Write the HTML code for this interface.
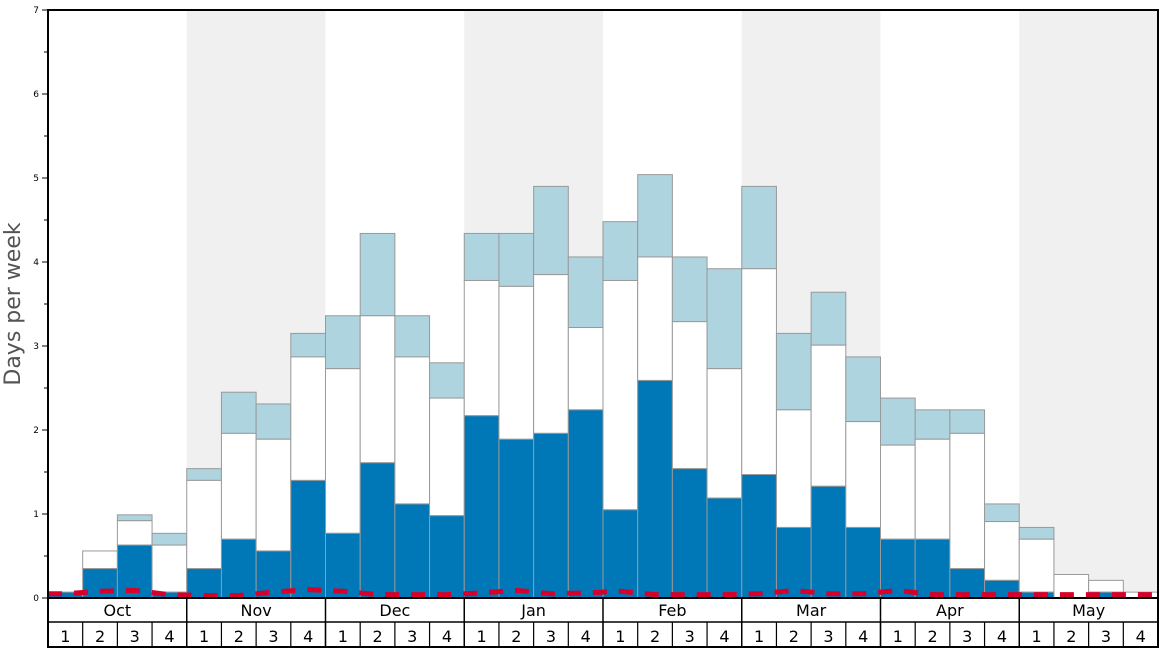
<!DOCTYPE html>
<html><head><meta charset="utf-8"><style>
body{margin:0;background:#fff;font-family:"DejaVu Sans","Liberation Sans",sans-serif;}
svg{display:block}
</style></head><body>
<svg id="chart" width="1168" height="648" xmlns="http://www.w3.org/2000/svg">
<g id="bg"></g>
<g id="bars"></g>
<g id="line"></g>
<g id="axes"></g>
<text transform="translate(20,304) rotate(-90)" text-anchor="middle" font-size="22" fill="#555">Days per week</text>
</svg>
<script>
const months=["Oct","Nov","Dec","Jan","Feb","Mar","Apr","May"];
const darkVals=[0.07,0.35,0.63,0.07,0.35,0.70,0.56,1.40,0.77,1.61,1.12,0.98,2.17,1.89,1.96,2.24,1.05,2.59,1.54,1.19,1.47,0.84,1.33,0.84,0.70,0.70,0.35,0.21,0.07,0,0.07,0];
const whiteVals=[0.07,0.56,0.92,0.63,1.40,1.96,1.89,2.87,2.73,3.36,2.87,2.38,3.78,3.71,3.85,3.22,3.78,4.06,3.29,2.73,3.92,2.24,3.01,2.10,1.82,1.89,1.96,0.91,0.70,0.28,0.21,0.07];
const topVals=[0.07,0.56,0.99,0.77,1.54,2.45,2.31,3.15,3.36,4.34,3.36,2.80,4.34,4.34,4.90,4.06,4.48,5.04,4.06,3.92,4.90,3.15,3.64,2.87,2.38,2.24,2.24,1.12,0.84,0.28,0.21,0.07];
const lineVals=[0.05,0.08,0.09,0.04,0.03,0.03,0.07,0.10,0.08,0.04,0.04,0.04,0.06,0.09,0.05,0.06,0.08,0.04,0.04,0.04,0.05,0.09,0.05,0.05,0.09,0.04,0.04,0.04,0.04,0.04,0.04,0.04];
const yTicks=[0,1,2,3,4,5,6,7];
const NS="http://www.w3.org/2000/svg";
const X0=48,X1=1158,Y0=598,Y7=10,n=darkVals.length,bw=(X1-X0)/n;
const xs=i=>X0+i*bw;
const ys=v=>Y0-(v/7)*(Y0-Y7);
function mk(p,t,a){const e=document.createElementNS(NS,t);for(const k in a)e.setAttribute(k,a[k]);p.appendChild(e);return e;}
const bg=document.getElementById('bg'),bars=document.getElementById('bars'),ln=document.getElementById('line'),ax=document.getElementById('axes');
months.forEach((m,i)=>{if(i%2==1){const r=mk(bg,'rect',{x:xs(i*4),y:Y7,width:bw*4,height:Y0-Y7,fill:'#f0f0f0'});

}});
for(let i=0;i<n;i++){
 const x=xs(i);
 const t=mk(bars,'rect',{x:x,y:ys(topVals[i]),width:bw,height:ys(whiteVals[i])-ys(topVals[i]),fill:'#aed4e0',stroke:'#999','stroke-width':1});
 
 
 const w=mk(bars,'rect',{x:x,y:ys(whiteVals[i]),width:bw,height:ys(darkVals[i])-ys(whiteVals[i]),fill:'#fff',stroke:'#999','stroke-width':1});
 
 
 const d=mk(bars,'rect',{x:x,y:ys(darkVals[i]),width:bw,height:Y0-ys(darkVals[i]),fill:'#0077b6',stroke:'#999','stroke-width':1});
 
 
}
const pts=lineVals.map((v,i)=>(xs(i)+bw/2)+','+ys(v));
pts.unshift(X0+','+ys(lineVals[0]));pts.push(X1+','+ys(lineVals[n-1]));
const pl=mk(ln,'polyline',{points:pts.join(' '),fill:'none',stroke:'#d7002a','stroke-width':5,'stroke-dasharray':'14,12'});


mk(ax,'rect',{x:X0,y:Y7,width:X1-X0,height:Y0-Y7,fill:'none',stroke:'#000','stroke-width':2});
for(let k=0;k<=14;k++){const v=k/2,y=ys(v);mk(ax,'line',{x1:X0-(k%2?4:6),x2:X0,y1:y,y2:y,stroke:'#000','stroke-width':1});}
yTicks.forEach(v=>{const t=mk(ax,'text',{x:X0-9,y:ys(v)+3,'text-anchor':'end','font-size':9,fill:'#000'});t.textContent=v;

});
mk(ax,'rect',{x:X0,y:Y0,width:X1-X0,height:49,fill:'#fff',stroke:'#000','stroke-width':2});
mk(ax,'line',{x1:X0,x2:X1,y1:622,y2:622,stroke:'#000','stroke-width':1.5});
months.forEach((m,i)=>{
 const x=xs(i*4);
 mk(ax,'line',{x1:x,x2:x,y1:Y0,y2:648,stroke:'#000','stroke-width':1.5});
 const t=mk(ax,'text',{x:x+bw*2,y:616,'text-anchor':'middle','font-size':16,fill:'#000'});t.textContent=m;
 
 
});
for(let i=0;i<n;i++){
 const x=xs(i);
 mk(ax,'line',{x1:x,x2:x,y1:622,y2:648,stroke:'#000','stroke-width':1.2});
 const t=mk(ax,'text',{x:x+bw/2,y:642,'text-anchor':'middle','font-size':16,fill:'#000'});t.textContent=(i%4)+1;
 
 
}
</script>
</body></html>
